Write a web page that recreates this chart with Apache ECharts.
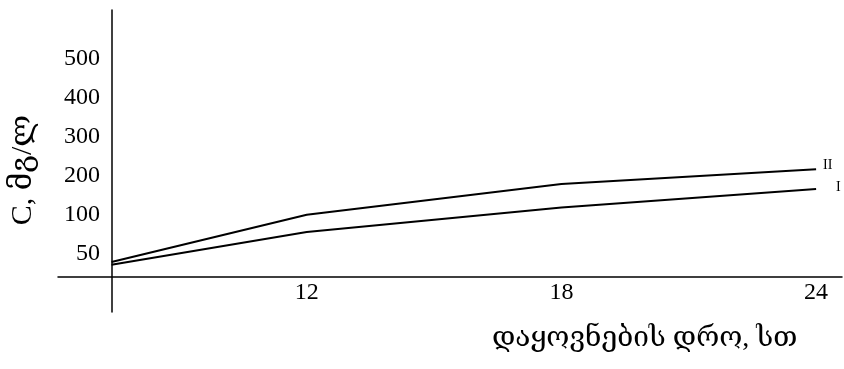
<!DOCTYPE html>
<html>
<head>
<meta charset="utf-8">
<script src="https://cdn.jsdelivr.net/npm/echarts@6/dist/echarts.min.js"></script>
<style>
  html, body { margin: 0; padding: 0; background: #fff; }
  #chart { width: 844px; height: 369px; }
</style>
</head>
<body>
<div id="chart"></div>
<script>
// Holding time, hours (first point sits on the C axis)
const hours = [7.4, 12, 18, 24];
// Concentration on the drawn level scale (level 1 = "50", level 6 = "500")
const curveI = [0.72, 1.56, 2.19, 2.66];
const curveII = [0.79, 2.00, 2.79, 3.17];
// Tick labels
const xTicks = [12, 18, 24];
const yTickLabels = ['50', '100', '200', '300', '400', '500'];
const yTickLevels = [1, 2, 3, 4, 5, 6];
const seriesNames = ['I', 'II'];

const serif = "'Liberation Serif', 'DejaVu Serif', serif";
const ink = '#000';

const chart = echarts.init(document.getElementById('chart'), null, { renderer: 'canvas' });

function pairs(xs, ys) {
  return xs.map((x, i) => [x, ys[i]]);
}

function curve(name, values, labelOffset) {
  return {
    name: name,
    type: 'line',
    data: pairs(hours, values),
    symbol: 'none',
    lineStyle: { color: ink, width: 2 },
    endLabel: {
      show: true,
      formatter: name,
      color: ink,
      fontFamily: serif,
      fontSize: 14,
      distance: 5,
      offset: labelOffset
    },
    silent: true
  };
}

chart.setOption({
  animation: false,
  backgroundColor: '#fff',
  title: {
    text: 'დაყოვნების დრო, სთ',
    left: 492,
    top: 325,
    padding: 0,
    textStyle: { fontFamily: serif, fontSize: 28, fontWeight: 'normal', color: ink }
  },
  grid: { left: 57, right: 2, top: 10, bottom: 57 },
  xAxis: {
    type: 'value',
    min: 6.14,
    max: 24.61,
    offset: -35,
    axisLine: { show: true, lineStyle: { color: ink, width: 1.5 } },
    axisTick: { show: false },
    splitLine: { show: false },
    axisLabel: {
      customValues: xTicks,
      color: ink,
      fontFamily: serif,
      fontSize: 24,
      margin: 4
    }
  },
  yAxis: {
    type: 'value',
    min: -0.49,
    max: 7.25,
    offset: -54,
    name: 'C, მგ/ლ',
    nameLocation: 'middle',
    nameRotate: 90,
    nameGap: 74,
    nameTextStyle: { fontFamily: serif, fontSize: 30, color: ink, padding: [0, 18, 0, 0] },
    axisLine: { show: true, lineStyle: { color: ink, width: 1.5 } },
    axisTick: { show: false },
    splitLine: { show: false },
    axisLabel: {
      customValues: yTickLevels,
      formatter: v => yTickLabels[yTickLevels.indexOf(v)],
      color: ink,
      fontFamily: serif,
      fontSize: 24,
      margin: 12
    }
  },
  series: [
    curve(seriesNames[0], curveI, [15, -2]),
    curve(seriesNames[1], curveII, [2, -4])
  ]
});
</script>
</body>
</html>
